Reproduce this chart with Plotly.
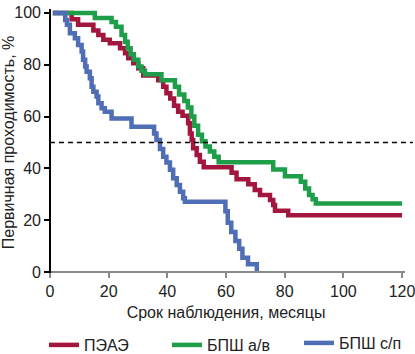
import plotly.graph_objects as go

# ---- data ----
pe_t = [1, 7.4, 9.6, 14.8, 16.5, 18.2, 20.4, 23.9, 25.6, 26.7, 28.4, 30.1, 31.8, 36.9, 38.6, 39.7,
        41, 42.3, 43.7, 45.2, 47.1, 47.7, 48.3, 48.8, 50, 51.1, 52.4, 61.9, 63.6, 67.6, 69.8, 71.6,
        75, 76.1, 76.7, 81.2, 120]
pe_v = [100, 97.5, 95.4, 93.2, 91.5, 89.6, 88.3, 86.4, 84.4, 82.5, 80.6, 78.6, 75.8, 74, 71.5, 69,
        67, 64.2, 61.9, 60.3, 57.4, 53.5, 51, 47.8, 45.2, 42.6, 40.5, 38.3, 35.8, 33.9, 31.7, 29.7,
        27.8, 25.9, 23.7, 21.9, 21.9]

ga_t = [1, 15.3, 21, 22.5, 24.4, 25.6, 26.5, 27.5, 28.6, 30.1, 31.2, 32.4, 38, 42.6, 44, 45.8, 47,
        48.2, 49.2, 50.5, 51.8, 53, 54.5, 56, 57.5, 76.1, 80.1, 85.5, 87, 88.3, 89.5, 90.6, 120]
ga_v = [100, 98, 96.5, 94.7, 91.5, 88.9, 86.4, 84, 81.9, 79.3, 77.7, 76.3, 74, 71.5, 68.5, 66, 63.5,
        60, 56.5, 53, 50.5, 48.5, 46.5, 44.5, 42.4, 39.6, 37, 34.9, 32.3, 29.7, 28.1, 26.5, 26.5]

bs_t = [1, 5.2, 5.8, 6.8, 8.5, 9.6, 10.8, 11.3, 12, 12.5, 13.6, 14.2, 14.8, 15.9, 16.5, 17.6, 18.7,
        21, 27.8, 35.5, 36.3, 37.5, 38.6, 39.7, 40.9, 42, 43.2, 44.3, 45.4, 46, 59.8, 60.6, 61.8,
        63.2, 64.5, 65.6, 67.5, 70.5]
bs_v = [100, 97.3, 95.4, 92.1, 90.2, 87.6, 85.1, 81.9, 79.3, 77.3, 74.8, 71.5, 69.6, 67.7, 65.1,
        63.2, 61.9, 59.3, 56.1, 53.5, 51, 47.5, 44.5, 42.3, 39.5, 36.2, 33.6, 31, 28.5, 27.1, 23.5,
        19, 15.5, 12, 9, 5.5, 3, 0]

series_names = ["ПЭАЭ", "БПШ а/в", "БПШ с/п"]
x_ticks = [0, 20, 40, 60, 80, 100, 120]
y_ticks = [0, 20, 40, 60, 80, 100]
threshold = 50

FONT = "Liberation Sans, Arial, sans-serif"
colors = ["#A3173E", "#1F9E4A", "#4F6EB5"]

XR = [-1, 121]
YR = [-1.5, 101.5]

legend_ids = ["legend", "legend2", "legend3"]
legend_x = [44, 167, 299]      # px of each legend box
legend_y = [345, 345, 343]

fig = go.Figure()
for name, t, v, c, lg in zip(series_names, [pe_t, ga_t, bs_t], [pe_v, ga_v, bs_v], colors, legend_ids):
    fig.add_trace(go.Scatter(x=t, y=v, mode="lines", name=name, legend=lg,
                             line=dict(color=c, width=4.5, shape="hv")))

fig.add_shape(type="line", xref="paper", yref="y",
              x0=(0 - XR[0]) / (XR[1] - XR[0]), x1=1.022, y0=threshold, y1=threshold,
              line=dict(color="black", width=1.5, dash="5px,4px"))

W, H = 415, 354
leg_common = dict(orientation="h", xref="container", yref="container",
                  xanchor="left", yanchor="middle", font=dict(size=16, color="#222"),
                  bgcolor="rgba(0,0,0,0)")
layout_legends = {}
for lg, lx, ly in zip(legend_ids, legend_x, legend_y):
    layout_legends[lg] = dict(leg_common, x=lx / W, y=(H - ly) / H)

fig.update_layout(
    width=W, height=H,
    margin=dict(l=47, r=10, t=9, b=78, autoexpand=False),
    plot_bgcolor="white", paper_bgcolor="white",
    font=dict(family=FONT, size=16, color="#222"),
    showlegend=True,
    **layout_legends,
    xaxis=dict(range=XR, tickvals=x_ticks, showgrid=False, zeroline=False, automargin=False,
               showline=True, linecolor="#8a8a8a", linewidth=2,
               ticks="outside", ticklen=5, tickwidth=1.5, tickcolor="#8a8a8a",
               anchor="free", position=(0 - YR[0]) / (YR[1] - YR[0]),
               tickfont=dict(size=16), ticklabeloverflow="allow",
               title=dict(text="Срок наблюдения, месяцы", standoff=6, font=dict(size=16))),
    yaxis=dict(range=YR, tickvals=y_ticks, showgrid=False, zeroline=False, automargin=False,
               showline=True, linecolor="black", linewidth=1.5,
               ticks="outside", ticklen=5, tickwidth=1.5, tickcolor="black",
               anchor="free", position=(0 - XR[0]) / (XR[1] - XR[0]),
               tickfont=dict(size=16), ticklabeloverflow="allow",
               title=dict(text="Первичная проходимость, %", standoff=4, font=dict(size=16))),
)

fig.write_html("out.html", config={"displayModeBar": False},
               post_script="document.body.style.margin='0';document.body.style.overflow='hidden';")
